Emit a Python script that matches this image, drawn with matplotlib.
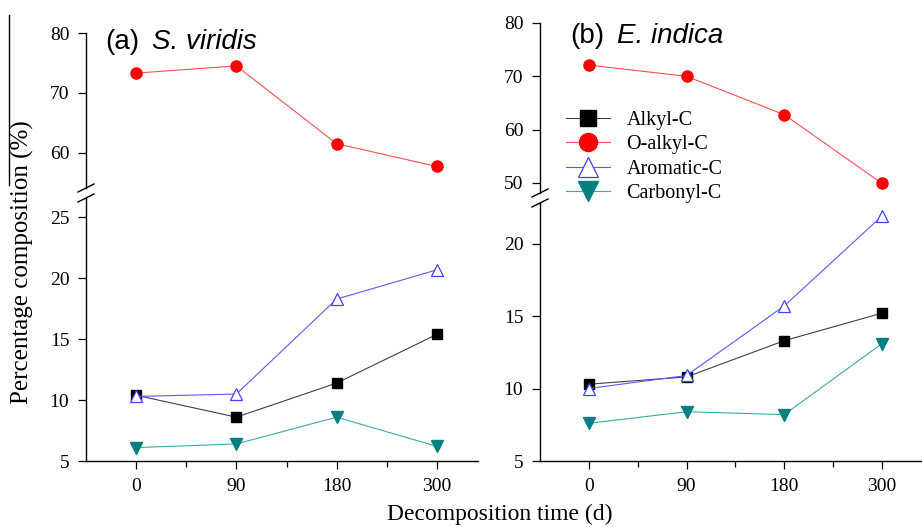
import numpy as np
import matplotlib
matplotlib.use('Agg')
from matplotlib import pyplot as plt
from matplotlib.lines import Line2D

days = ['0', '90', '180', '300']

# (a) S. viridis
a_alkyl = [10.4, 8.6, 11.4, 15.4]
a_oalkyl = [73.3, 74.5, 61.5, 57.7]
a_arom = [10.3, 10.5, 18.3, 20.7]
a_carb = [6.1, 6.4, 8.6, 6.2]

# (b) E. indica
b_alkyl = [10.3, 10.8, 13.3, 15.2]
b_oalkyl = [72.1, 70.0, 62.8, 49.9]
b_arom = [10.0, 10.9, 15.7, 21.9]
b_carb = [7.6, 8.4, 8.2, 13.1]

series_names = ['Alkyl-C', 'O-alkyl-C', 'Aromatic-C', 'Carbonyl-C']

plt.rcParams['font.family'] = ['Liberation Serif', 'DejaVu Serif']
plt.rcParams['xtick.direction'] = 'out'
plt.rcParams['ytick.direction'] = 'out'

fig = plt.figure(figsize=(9.22, 5.27), dpi=100)
W, H = 922., 527.

def fx(px):
    return px / W

def fy(py):
    return 1 - py / H

styles = {
    'Alkyl-C': dict(color='#404040', marker='s', mfc='black', mec='black', ms=7),
    'O-alkyl-C': dict(color='#ff5050', marker='o', mfc='#ff0000', mec='#ff0000', ms=8),
    'Aromatic-C': dict(color='#5a5aff', marker='^', mfc='white', mec='#4040ff', ms=9, mew=0.9),
    'Carbonyl-C': dict(color='#40a8a8', marker='v', mfc='#008080', mec='#008080', ms=9),
}


def panel(x0, x1, y_top, y_up_bot, y_lo_top, y_bot, up_lim, lo_lim, up_ticks, lo_ticks,
          oalkyl, others):
    x = np.arange(len(days))
    ax_up = fig.add_axes([fx(x0), fy(y_up_bot), fx(x1 - x0), fy(y_top) - fy(y_up_bot)])
    ax_lo = fig.add_axes([fx(x0), fy(y_bot), fx(x1 - x0), fy(y_lo_top) - fy(y_bot)])
    for ax in (ax_up, ax_lo):
        ax.set_facecolor('none')
        ax.spines['top'].set_visible(False)
        ax.spines['right'].set_visible(False)
        ax.set_xlim(-0.5, 3.41)
        ax.tick_params(labelsize=14, length=6, width=0.9)
        ax.tick_params(axis='y', pad=6)
        ax.spines['left'].set_linewidth(1.0)
        ax.spines['bottom'].set_linewidth(1.0)
    ax_up.spines['bottom'].set_visible(False)
    ax_up.tick_params(axis='x', bottom=False, labelbottom=False)
    ax_up.set_ylim(*up_lim)
    ax_up.set_yticks(up_ticks)
    ax_lo.set_ylim(*lo_lim)
    ax_lo.set_yticks(lo_ticks)
    ax_lo.set_xticks(x)
    ax_lo.set_xticklabels(days)
    ax_lo.set_xticks([0.5, 1.5, 2.5], minor=True)
    ax_lo.tick_params(axis='x', which='minor', length=4, width=0.9)
    ax_lo.tick_params(axis='x', pad=6)

    ax_up.plot(x, oalkyl, lw=0.8, label='O-alkyl-C', **styles['O-alkyl-C'])
    for name, vals in others:
        ax_lo.plot(x, vals, lw=0.8, label=name, **styles[name])

    # break marks
    ym = (fy(y_up_bot) + fy(y_lo_top)) / 2
    for dy in (-5, 5):
        yc = ym + dy / H
        fig.add_artist(Line2D([fx(x0 - 8), fx(x0 + 8)], [yc - 4 / H, yc + 4 / H],
                              color='black', lw=1.0))
    return ax_up, ax_lo


ax1u, ax1l = panel(86, 478, 33, 188, 198, 461, (54.1, 80), (5, 26.6),
                   [60, 70, 80], [5, 10, 15, 20, 25], a_oalkyl,
                   [('Alkyl-C', a_alkyl), ('Aromatic-C', a_arom), ('Carbonyl-C', a_carb)])
ax2u, ax2l = panel(540, 922, 23, 193, 203, 461, (48.1, 80), (5, 22.8),
                   [50, 60, 70, 80], [5, 10, 15, 20], b_oalkyl,
                   [('Alkyl-C', b_alkyl), ('Aromatic-C', b_arom), ('Carbonyl-C', b_carb)])

# panel titles
fig.text(fx(105), fy(42), '(a)', fontsize=20, family='Liberation Sans', va='center', ha='left')
fig.text(fx(152), fy(42), 'S. viridis', fontsize=20, family='Liberation Sans',
         style='italic', va='center', ha='left')
fig.text(fx(570), fy(36), '(b)', fontsize=20, family='Liberation Sans', va='center', ha='left')
fig.text(fx(617), fy(36), 'E. indica', fontsize=20, family='Liberation Sans',
         style='italic', va='center', ha='left')

# legend
handles = []
for name in series_names:
    st = dict(styles[name])
    st['ms'] = st['ms'] + 5
    handles.append(Line2D([], [], lw=0.8, label=name, **st))
fig.legend(handles=handles, loc='upper left', bbox_to_anchor=(fx(556), fy(101)),
           frameon=False, fontsize=14.5, handlelength=2.2, labelspacing=0.26,
           handletextpad=0.8, borderpad=0)

fig.text(fx(22), fy(262), 'Percentage composition (%)', rotation=90, fontsize=18,
         ha='center', va='center')
fig.text(fx(500), fy(514), 'Decomposition time (d)', fontsize=17, ha='center', va='center')
fig.add_artist(Line2D([fx(9), fx(9)], [fy(15), fy(185)], color='black', lw=1.0))

fig.savefig('out.png', dpi=100)
